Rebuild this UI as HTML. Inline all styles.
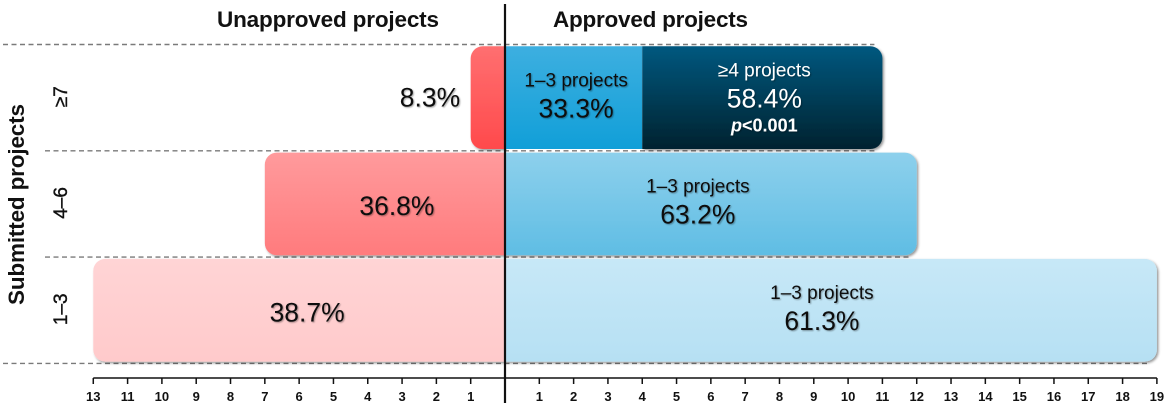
<!DOCTYPE html>
<html>
<head>
<meta charset="utf-8">
<style>
html,body{margin:0;padding:0;background:#fff;width:1169px;height:408px;overflow:hidden}
svg{display:block;font-family:"Liberation Sans",sans-serif}
</style>
</head>
<body>
<svg id="chart" xmlns="http://www.w3.org/2000/svg" width="1169" height="408" viewBox="0 0 1169 408">
<defs>
<linearGradient id="g-red3" x1="0" y1="0" x2="0" y2="1"><stop offset="0" stop-color="#ff6f70"/><stop offset="1" stop-color="#ff4a4c"/></linearGradient>
<linearGradient id="g-mid3" x1="0" y1="0" x2="0" y2="1"><stop offset="0" stop-color="#3dafe0"/><stop offset="1" stop-color="#119fd8"/></linearGradient>
<linearGradient id="g-dark3" x1="0" y1="0" x2="0" y2="1"><stop offset="0" stop-color="#03587f"/><stop offset="1" stop-color="#02222f"/></linearGradient>
<linearGradient id="g-red2" x1="0" y1="0" x2="0" y2="1"><stop offset="0" stop-color="#ff9a9c"/><stop offset="1" stop-color="#ff7b7d"/></linearGradient>
<linearGradient id="g-blue2" x1="0" y1="0" x2="0" y2="1"><stop offset="0" stop-color="#8dd0ec"/><stop offset="1" stop-color="#5fbde4"/></linearGradient>
<linearGradient id="g-red1" x1="0" y1="0" x2="0" y2="1"><stop offset="0" stop-color="#ffd4d5"/><stop offset="1" stop-color="#ffcacb"/></linearGradient>
<linearGradient id="g-blue1" x1="0" y1="0" x2="0" y2="1"><stop offset="0" stop-color="#c7e8f7"/><stop offset="1" stop-color="#b6e0f3"/></linearGradient>
<filter id="bar-shadow" x="-5%" y="-5%" width="110%" height="115%"><feDropShadow dx="1.5" dy="1.5" stdDeviation="1.3" flood-color="#000" flood-opacity="0.42"/></filter>
<filter id="text-shadow" x="-10%" y="-20%" width="120%" height="140%"><feDropShadow dx="1" dy="1" stdDeviation="0.8" flood-color="#000" flood-opacity="0.35"/></filter>
</defs>
<g id="layer-grid"></g>
<g id="layer-bars"></g>
<g id="layer-labels"></g>
<g id="layer-axis"></g>
</svg>
<script>
// Chart data
const rowLabels = ['≥7', '4–6', '1–3'];
const unapprovedLengths = [1, 7, 12];
const approvedLowLengths = [4, 12, 19];
const approvedHighLengths = [7, 0, 0];
const unapprovedPercents = ['8.3%', '36.8%', '38.7%'];
const approvedLowPercents = ['33.3%', '63.2%', '61.3%'];
const approvedHighPercents = ['58.4%', '', ''];
const leftTickLabels = ['1', '2', '3', '4', '5', '6', '7', '8', '9', '10', '11', '13'];
const rightTickLabels = ['1', '2', '3', '4', '5', '6', '7', '8', '9', '10', '11', '12', '13', '14', '15', '16', '17', '18', '19'];

const NS = 'http://www.w3.org/2000/svg';
const unit = 34.31;
const zero = 505;
const rowTop = 44.5;
const rowH = 106.3;
const xRight = v => zero + v * unit;
const xLeft = v => zero - v * unit;
const yRow = i => rowTop + i * rowH;
// Small per-row shifts of the text away from the exact bar centre
const leftLabelNudge = i => [0, 12, 8][i];
const rightLabelNudge = i => [2.5, -13, -9][i];

function make(parent, tag, attrs, text) {
  const el = document.createElementNS(NS, tag);
  for (const k in attrs) el.setAttribute(k, attrs[k]);
  if (text !== undefined) el.textContent = text;
  parent.appendChild(el);
  return el;
}
function barPath(x0, x1, y0, y1, roundLeft, roundRight) {
  const r = 12;
  const a = `A${r} ${r} 0 0 1 `;
  let d = roundLeft ? `M${x0 + r} ${y0}` : `M${x0} ${y0}`;
  d += roundRight ? `L${x1 - r} ${y0}${a}${x1} ${y0 + r}L${x1} ${y1 - r}${a}${x1 - r} ${y1}` : `L${x1} ${y0}L${x1} ${y1}`;
  d += roundLeft ? `L${x0 + r} ${y1}${a}${x0} ${y1 - r}L${x0} ${y0 + r}${a}${x0 + r} ${y0}Z` : `L${x0} ${y1}Z`;
  return d;
}

const grid = document.getElementById('layer-grid');
const bars = document.getElementById('layer-bars');
const labels = document.getElementById('layer-labels');
const axis = document.getElementById('layer-axis');

// Dashed row separators
const lineExtents = [approvedLowLengths[0] + approvedHighLengths[0], approvedLowLengths[0] + approvedHighLengths[0], approvedLowLengths[1], approvedLowLengths[2]];
for (let i = 0; i < 4; i++) {
  const line = make(grid, 'line', { x1: (i === 0 || i === 3) ? 3 : 45, x2: xRight(lineExtents[i]) - 8, y1: yRow(i), y2: yRow(i), stroke: '#7a7a7a', 'stroke-width': 1.4, 'stroke-dasharray': '5 3.5' });
  
  
}

// Bars and their labels
const redFills = ['g-red3', 'g-red2', 'g-red1'];
const blueFills = ['g-mid3', 'g-blue2', 'g-blue1'];
rowLabels.forEach((row, i) => {
  const y0 = yRow(i) + 1.8;
  const y1 = yRow(i + 1) - 1.8;
  const hasHigh = approvedHighLengths[i] > 0;

  const left = make(bars, 'path', { d: barPath(xLeft(unapprovedLengths[i]), zero, y0, y1, true, false), fill: `url(#${redFills[i]})`, filter: 'url(#bar-shadow)' });
  
  

  const low = make(bars, 'path', { d: barPath(zero, xRight(approvedLowLengths[i]), y0, y1, false, !hasHigh), fill: `url(#${blueFills[i]})`, filter: hasHigh ? 'none' : 'url(#bar-shadow)' });
  
  

  if (hasHigh) {
    const high = make(bars, 'path', { d: barPath(xRight(approvedLowLengths[i]), xRight(approvedLowLengths[i] + approvedHighLengths[i]), y0, y1, false, true), fill: 'url(#g-dark3)', filter: 'url(#bar-shadow)' });
    
    
  }

  const rowLabel = make(labels, 'text', { transform: `translate(67 ${(y0 + y1) / 2 - 1}) rotate(-90)`, 'text-anchor': 'middle', 'font-size': 19, fill: '#111', stroke: '#111', 'stroke-width': 0.4 }, row);
  
  

  // Unapproved percentage sits centred, except the short bar whose label is outside
  const ux = i === 0 ? 430 : (xLeft(unapprovedLengths[i]) + zero) / 2 + leftLabelNudge(i);
  const pctLeft = make(labels, 'text', { x: ux, y: (y0 + y1) / 2 + (i === 0 ? 9 : 11), 'text-anchor': 'middle', 'font-size': 26.5, fill: '#111', filter: 'url(#text-shadow)' }, unapprovedPercents[i]);
  
  

  const cx = (zero + xRight(approvedLowLengths[i])) / 2 + rightLabelNudge(i);
  const cap = make(labels, 'text', { x: cx, y: y0 + 40, 'text-anchor': 'middle', 'font-size': 19, fill: '#111', filter: 'url(#text-shadow)' }, '1–3 projects');
  
  
  const pct = make(labels, 'text', { x: cx, y: y0 + 71, 'text-anchor': 'middle', 'font-size': 26.5, fill: '#111', filter: 'url(#text-shadow)' }, approvedLowPercents[i]);
  
  

  if (hasHigh) {
    const hx = (xRight(approvedLowLengths[i]) + xRight(approvedLowLengths[i] + approvedHighLengths[i])) / 2 + 2;
    const hCap = make(labels, 'text', { x: hx, y: y0 + 30, 'text-anchor': 'middle', 'font-size': 19, fill: '#fff', filter: 'url(#text-shadow)' }, '≥4 projects');
    
    
    const hPct = make(labels, 'text', { x: hx, y: y0 + 61, 'text-anchor': 'middle', 'font-size': 26.5, fill: '#fff', filter: 'url(#text-shadow)' }, approvedHighPercents[i]);
    
    
    const pVal = make(labels, 'text', { x: hx, y: y0 + 85, 'text-anchor': 'middle', 'font-size': 18, 'font-weight': 700, fill: '#fff', filter: 'url(#text-shadow)' });
    
    
    make(pVal, 'tspan', { 'font-style': 'italic' }, 'p');
    make(pVal, 'tspan', {}, '<0.001');
  }
});

// Headings
const headLeft = make(labels, 'text', { x: 217, y: 27, 'font-size': 22.5, 'font-weight': 700, fill: '#111', textLength: 222 }, 'Unapproved projects');


const headRight = make(labels, 'text', { x: 553, y: 27, 'font-size': 22.5, 'font-weight': 700, fill: '#111', textLength: 195 }, 'Approved projects');


const yTitle = make(labels, 'text', { x: 0, y: 0, transform: 'translate(24 305) rotate(-90)', 'font-size': 22.5, 'font-weight': 700, fill: '#111', textLength: 201 }, 'Submitted projects');



// Axis
const axisY = 378;
const axisLine = make(axis, 'line', { x1: xLeft(leftTickLabels.length), x2: xRight(rightTickLabels.length), y1: axisY, y2: axisY, stroke: '#111', 'stroke-width': 1.5 });


function drawTick(x, label) {
  const t = make(axis, 'line', { x1: x, x2: x, y1: axisY, y2: axisY + 6, stroke: '#111', 'stroke-width': 1.5 });
  
  
  const l = make(axis, 'text', { x: x, y: axisY + 23, 'text-anchor': 'middle', 'font-size': 13, 'font-weight': 700, fill: '#111' }, label);
  
  
}
leftTickLabels.forEach((label, i) => drawTick(xLeft(i + 1), label));
rightTickLabels.forEach((label, i) => drawTick(xRight(i + 1), label));

const centre = make(axis, 'line', { x1: zero, x2: zero, y1: 4, y2: 403, stroke: '#111', 'stroke-width': 2.2 });


</script>
</body>
</html>
